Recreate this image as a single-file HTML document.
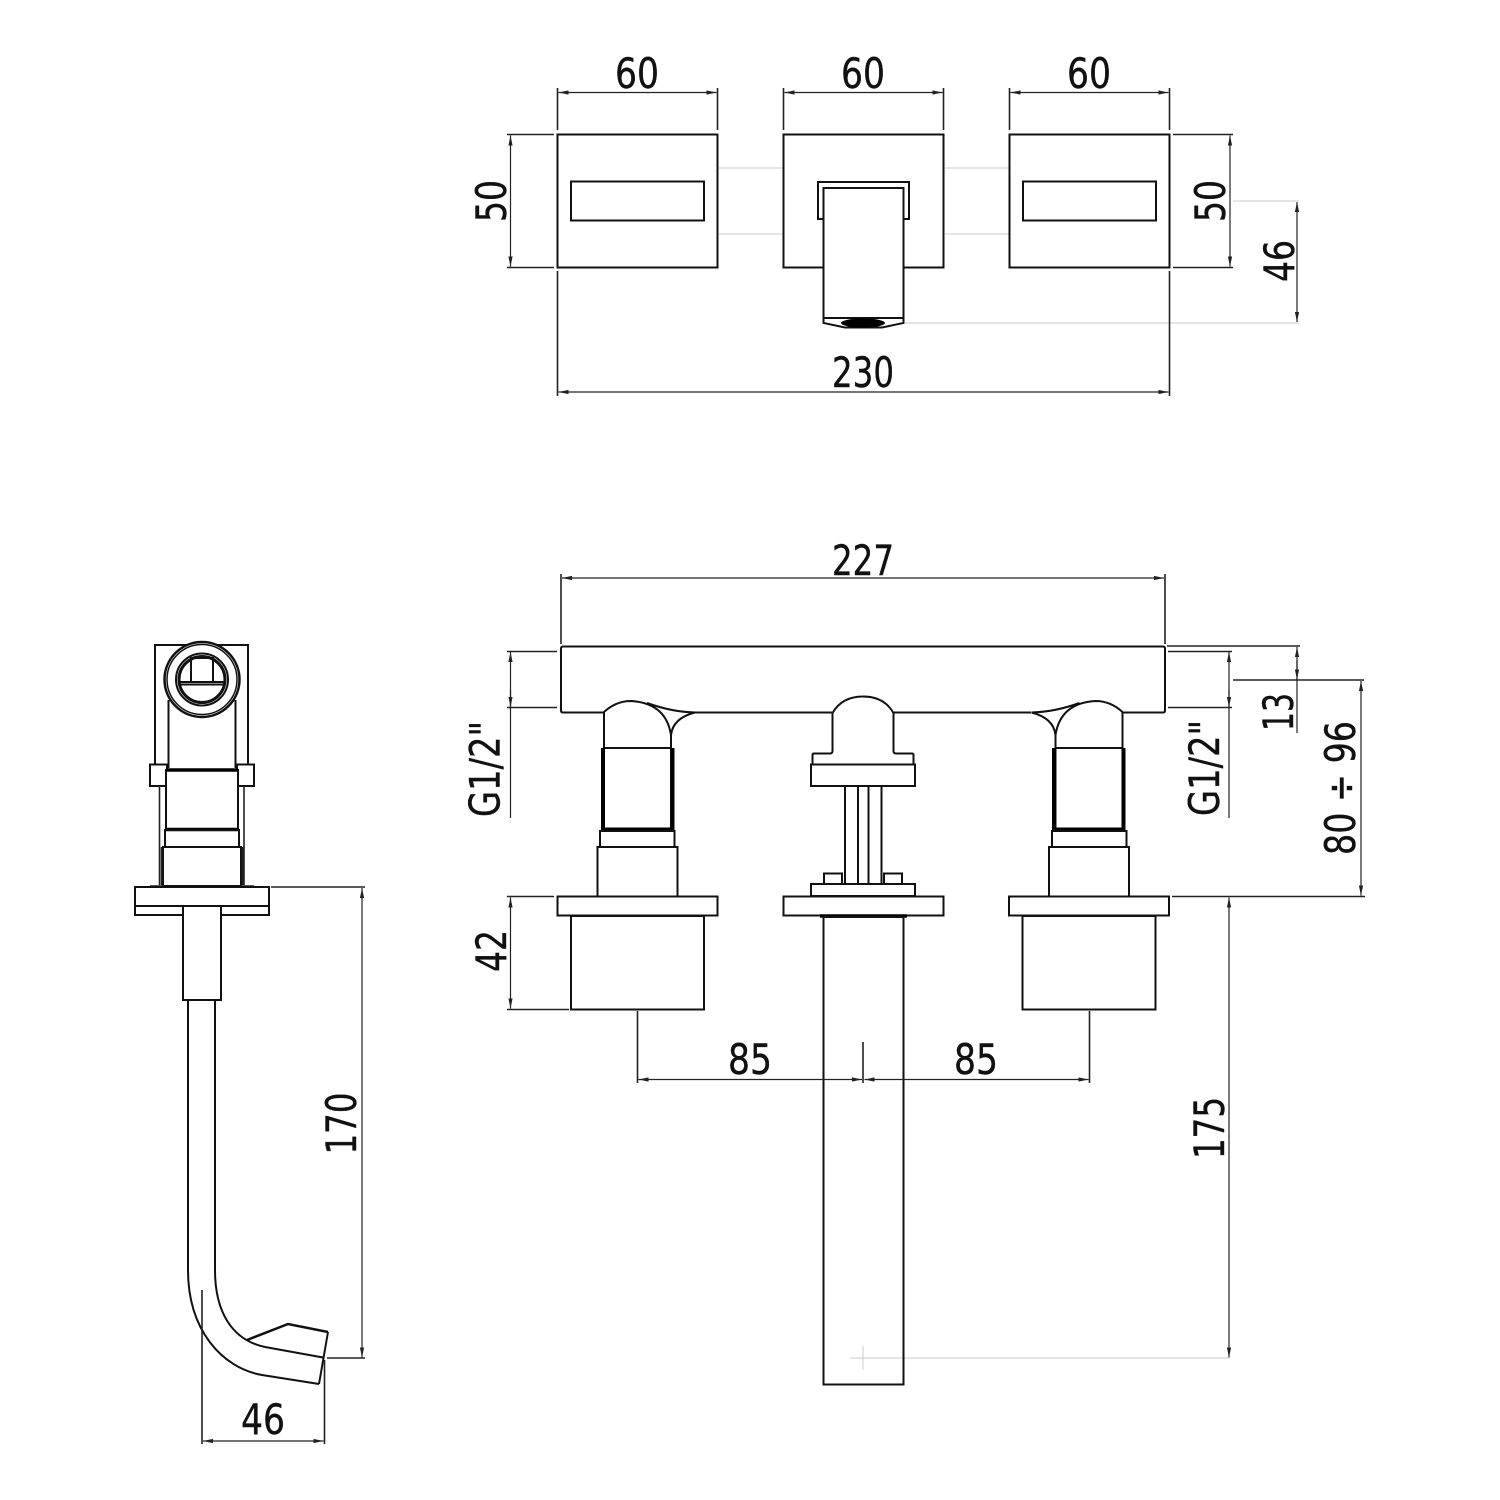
<!DOCTYPE html>
<html><head><meta charset="utf-8"><style>
html,body{margin:0;padding:0;background:#fff}
svg{display:block}
text{font-family:"DejaVu Sans","Liberation Sans",sans-serif;font-size:42px;fill:#111;stroke:#111;stroke-width:.4;text-anchor:middle}
.o{fill:none;stroke:#111;stroke-width:2}
.w{fill:#fff;stroke:#111;stroke-width:2}
.d{fill:none;stroke:#222;stroke-width:1.2}
.e{fill:none;stroke:#222;stroke-width:1.6}
.g{fill:none;stroke:#d4d4d4;stroke-width:1.2}
.t{fill:none;stroke:#000;stroke-width:4}
</style></head><body>
<svg width="1500" height="1500" viewBox="0 0 1500 1500" xmlns="http://www.w3.org/2000/svg">
<defs>
<marker id="a" viewBox="-11 0 11 6" refX="0" refY="3" markerWidth="11" markerHeight="6" markerUnits="userSpaceOnUse" orient="auto-start-reverse"><path d="M0 3L-10 .9V5.100Z" fill="#222"/></marker>
</defs>

<!-- gray lines -->
<path class="g" d="M719 168H783M719 234H783M945 168H1009M945 234H1009M905 323H1299M1233 201H1299M850 1358H1229M863 1346V1370M857 1358H870"/>

<!-- TOP VIEW -->
<rect class="o" x="557.5" y="134.5" width="160" height="133"/>
<rect class="o" x="571" y="181.5" width="133" height="39"/>
<rect class="o" x="783.5" y="134.5" width="160" height="133"/>
<rect class="o" x="1009.5" y="134.5" width="160" height="133"/>
<rect class="o" x="1023" y="181.5" width="133" height="39"/>
<rect class="w" x="818" y="182" width="91" height="37"/>
<path class="w" d="M823.5 188H903.5V323L882 327.5H845L823.5 323Z"/>
<path class="o" d="M823.5 318H903.5"/>
<ellipse cx="863" cy="323" rx="22" ry="4.6" fill="#000"/>

<!-- top dims -->
<path class="e" d="M557.5 88V130M717.5 88V130M783.5 88V130M943.5 88V130M1009.5 88V130M1169.5 88V130"/>
<path class="e" d="M507 134.5H554M507 267.5H554M1173 134.5H1233M1173 267.5H1233M557.5 271V396M1169.5 271V396"/>
<path class="d" marker-start="url(#a)" marker-end="url(#a)" d="M558.500 92.5H716.500"/>
<path class="d" marker-start="url(#a)" marker-end="url(#a)" d="M784.500 92.5H942.500"/>
<path class="d" marker-start="url(#a)" marker-end="url(#a)" d="M1010.500 92.5H1168.500"/>
<path class="d" marker-start="url(#a)" marker-end="url(#a)" d="M510.500 135.500V266.500"/>
<path class="d" marker-start="url(#a)" marker-end="url(#a)" d="M1230 135.500V266.500"/>
<path class="d" marker-start="url(#a)" marker-end="url(#a)" d="M1297 202V322"/>
<path class="d" marker-start="url(#a)" marker-end="url(#a)" d="M558.500 392H1168.500"/>
<text x="637" y="88" textLength="44" lengthAdjust="spacingAndGlyphs">60</text>
<text x="863" y="88" textLength="44" lengthAdjust="spacingAndGlyphs">60</text>
<text x="1089" y="88" textLength="44" lengthAdjust="spacingAndGlyphs">60</text>
<text x="863" y="387" textLength="62" lengthAdjust="spacingAndGlyphs">230</text>
<text transform="translate(506 201) rotate(-90)" textLength="42" lengthAdjust="spacingAndGlyphs">50</text>
<text transform="translate(1225 201) rotate(-90)" textLength="42" lengthAdjust="spacingAndGlyphs">50</text>
<text transform="translate(1294 261) rotate(-90)" textLength="42" lengthAdjust="spacingAndGlyphs">46</text>

<!-- FRONT VIEW -->
<path class="o" d="M604 712.500H563Q561 712.500 561 710.500V648.500Q561 646.500 563 646.500H1163Q1165 646.500 1165 648.500V710.500Q1165 712.500 1163 712.500H1122M695 712.500H832M894 712.500H1031"/>

<!-- left handle -->
<g id="h">
<path class="o" d="M604 712V748M604 712Q616 701 631 701Q666 703 671 735V748"/>
<path class="o" d="M647 703Q672 712 695 712.500M671 735Q673 718 695 712.500"/>
<rect class="o" x="604" y="748" width="67" height="81"/>
<path class="t" d="M603 748V829.500H672.500V748"/>
<rect class="o" x="600" y="831" width="74.500" height="16"/>
<rect class="o" x="597.500" y="847" width="80" height="49.500"/>
<rect class="w" x="557.500" y="896.500" width="160" height="19"/>
<rect class="o" x="571" y="916" width="133" height="93.500"/>
</g>
<use href="#h" transform="matrix(-1 0 0 1 1726.500 0)"/>

<!-- center -->
<path class="o" d="M832.500 713Q842 696.500 863 696.500T893.500 713V751Q893.500 753.500 896 753.500H912Q913.500 753.500 913.500 755V764M832.500 713V751Q832.500 753.500 830 753.500H814Q812.500 753.500 812.500 755V764"/>
<rect class="o" x="811" y="764.500" width="104" height="21.500"/>
<path class="o" d="M845 786V884M858 786V884M868.500 786V884M881.500 786V884"/>
<rect class="o" x="824" y="873.500" width="18" height="10.500"/>
<rect class="o" x="884" y="873.500" width="18" height="10.500"/>
<rect class="o" x="811" y="884" width="104" height="12"/>
<rect class="w" x="783.500" y="896.500" width="160" height="19"/>
<path d="M820 916H907" stroke="#000" stroke-width="3.500" fill="none"/>
<rect class="o" x="823.500" y="917" width="80" height="467.500"/>

<!-- front dims -->
<path class="e" d="M561 574V644M1165 574V644M1167 646H1300M1168 651.500H1232M1168 707.500H1232M1233 680H1364M1172 896.500H1365M507 651.500H557M507 707.500H557M507 896.500H554M507 1009.500H569"/>
<path class="e" d="M637.500 1011V1083M1089.500 1011V1083M863 1042V1083"/>
<path class="d" marker-start="url(#a)" marker-end="url(#a)" d="M562 578H1164"/>
<path class="d" marker-start="url(#a)" d="M510.500 652V818"/>
<path class="d" marker-start="url(#a)" d="M1229 652V818"/>
<path class="d" marker-end="url(#a)" d="M510.500 690V707"/>
<path class="d" marker-end="url(#a)" d="M1229 690V707"/>
<path class="d" marker-start="url(#a)" d="M1297 647V733"/>
<path class="d" marker-end="url(#a)" d="M1297 660V679.500"/>
<path class="d" marker-start="url(#a)" marker-end="url(#a)" d="M1361 681V895.500"/>
<path class="d" marker-start="url(#a)" marker-end="url(#a)" d="M510.500 897.500V1008.500"/>
<path class="d" marker-start="url(#a)" marker-end="url(#a)" d="M638.500 1079.500H862"/>
<path class="d" marker-start="url(#a)" marker-end="url(#a)" d="M864.500 1079.500H1088.500"/>
<path class="d" marker-start="url(#a)" marker-end="url(#a)" d="M1229 897.500V1357.500"/>
<text x="863" y="575" textLength="62" lengthAdjust="spacingAndGlyphs">227</text>
<text x="750" y="1074" textLength="44" lengthAdjust="spacingAndGlyphs">85</text>
<text x="976" y="1074" textLength="44" lengthAdjust="spacingAndGlyphs">85</text>
<text transform="translate(499.500 769) rotate(-90)" textLength="96" lengthAdjust="spacingAndGlyphs">G1/2"</text>
<text transform="translate(1219 768) rotate(-90)" textLength="96" lengthAdjust="spacingAndGlyphs">G1/2"</text>
<text transform="translate(1293 712) rotate(-90)" textLength="38" lengthAdjust="spacingAndGlyphs">13</text>
<text transform="translate(1355 788) rotate(-90)" textLength="134" lengthAdjust="spacingAndGlyphs">80 ÷ 96</text>
<text transform="translate(506 951) rotate(-90)" textLength="42" lengthAdjust="spacingAndGlyphs">42</text>
<text transform="translate(1224 1128) rotate(-90)" textLength="62" lengthAdjust="spacingAndGlyphs">175</text>
<text transform="translate(356 1123.500) rotate(-90)" textLength="62" lengthAdjust="spacingAndGlyphs">170</text>

<!-- SIDE VIEW -->
<path class="o" d="M155 764V645H248V764"/>
<path class="o" d="M168.500 700V768M235.500 700V768"/>
<circle cx="202" cy="679.500" r="37.500" fill="#fff" stroke="#111" stroke-width="2.500"/>
<circle cx="202" cy="679.500" r="35" fill="none" stroke="#111" stroke-width="1.500"/>
<circle cx="202" cy="679.500" r="26" class="o"/>
<circle cx="202" cy="679.500" r="23" fill="none" stroke="#111" stroke-width="3"/>
<path class="o" d="M180 682H224M180 684.500H224M191 682V658H213V682"/>
<rect class="w" x="150" y="764.500" width="17" height="21.500"/>
<rect class="w" x="237" y="764.500" width="17" height="21.500"/>
<rect class="w" x="166" y="770" width="72" height="60"/>
<path d="M166 770H238M166 829.500H238" stroke="#000" stroke-width="3.500"/>
<rect class="o" x="165" y="830" width="74" height="17"/>
<rect class="o" x="163" y="847" width="78" height="39"/>
<path class="e" d="M159.500 786V885M244 786V885M161.500 847V885M242.500 847V885M150 886H163M241 886H254"/>
<rect class="w" x="135" y="887" width="134" height="28"/>
<path class="o" d="M135 906H269"/>
<rect class="w" x="183" y="906" width="38" height="94"/>
<path class="o" d="M188 1000V1270C188 1330 222 1368 262 1375L319 1384M215 1000V1270C215 1312 232 1340 265 1347L323 1357.500"/>
<path class="o" d="M319 1384L328 1332"/>
<path class="o" style="stroke-width:2.500" d="M247 1340L288 1324L328 1332"/>

<path class="e" d="M271 887H365M327 1358H365M202 1290V1444M324.500 1360V1444"/>
<path class="d" marker-start="url(#a)" marker-end="url(#a)" d="M362 888V1357.500"/>
<path class="d" marker-start="url(#a)" marker-end="url(#a)" d="M203 1441H323.500"/>
<text x="263" y="1434" textLength="44" lengthAdjust="spacingAndGlyphs">46</text>
</svg>
</body></html>
